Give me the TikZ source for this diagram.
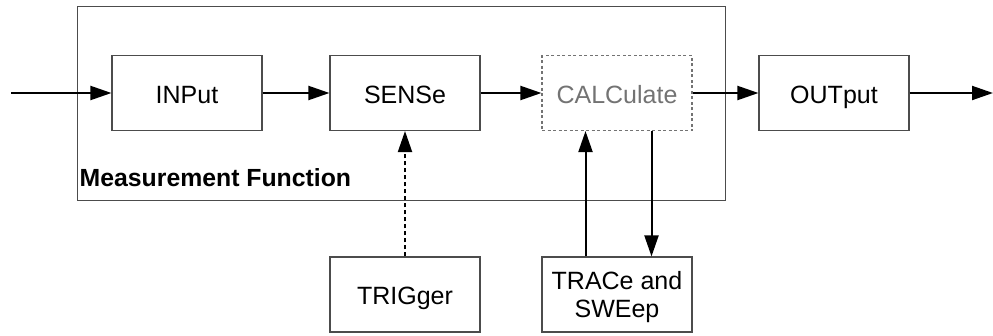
\documentclass[tikz,border=0pt]{standalone}
\usepackage{fontspec}
\setmainfont{Liberation Sans}
\usetikzlibrary{arrows.meta}
\begin{document}
\begin{tikzpicture}[x=1pt,y=-1pt,
  block/.style={draw=black!70, line width=1.1pt, minimum width=150pt, minimum height=75pt,
    inner sep=0pt, font=\fontsize{25}{28}\selectfont, align=center},
  oneline/.style={text height=22pt, text depth=2pt},
  twoline/.style={text height=48pt, text depth=2.4pt},
  ghost/.style={block, oneline, draw=black!55, dash pattern=on 3pt off 2.5pt, text=black!55},
  flow/.style={line width=2pt, -{Triangle[length=21pt,width=14pt]}},
  dots/.style={flow, dash pattern=on 4pt off 3pt}]
  \useasboundingbox (0,0) rectangle (993,335);
  % enclosing frame of the measurement function
  \node[draw=black!70, line width=1.1pt, minimum width=648pt, minimum height=194pt,
        inner sep=0pt, anchor=north west] (frame) at (77,6) {};
  \node[anchor=base west, inner sep=0pt, font=\fontsize{24.8}{29}\selectfont\bfseries]
        (mf) at (79.5,186.5) {Measurement Function};
  % subsystem blocks
  \node[block, oneline] (inp)  at (187,93) {INPut};
  \node[block, oneline] (sens) at (405,93) {SENSe};
  \node[ghost]          (calc) at (617,93) {CALCulate};
  \node[block, oneline] (outp) at (834,93) {OUTput};
  \node[block, oneline] (trig) at (405,294.5) {TRIGger};
  \node[block, twoline] (trac) at (617,294.5) {TRACe and\\SWEep};
  % signal path
  \coordinate (src) at (11,93);
  \coordinate (dst) at (993,93);
  \draw[flow] (src) -- (inp);
  \draw[flow] (inp) -- (sens);
  \draw[flow] (sens) -- (calc);
  \draw[flow] (calc) -- (outp);
  \draw[flow] (outp) -- (dst);
  % control links
  \draw[dots] (trig) -- (sens);
  \draw[flow] ([xshift=-31.5pt]trac.north) -- ([xshift=-31.5pt]calc.south);
  \draw[flow] ([xshift=34.5pt]calc.south) -- ([xshift=34.5pt]trac.north);
\end{tikzpicture}
\end{document}
